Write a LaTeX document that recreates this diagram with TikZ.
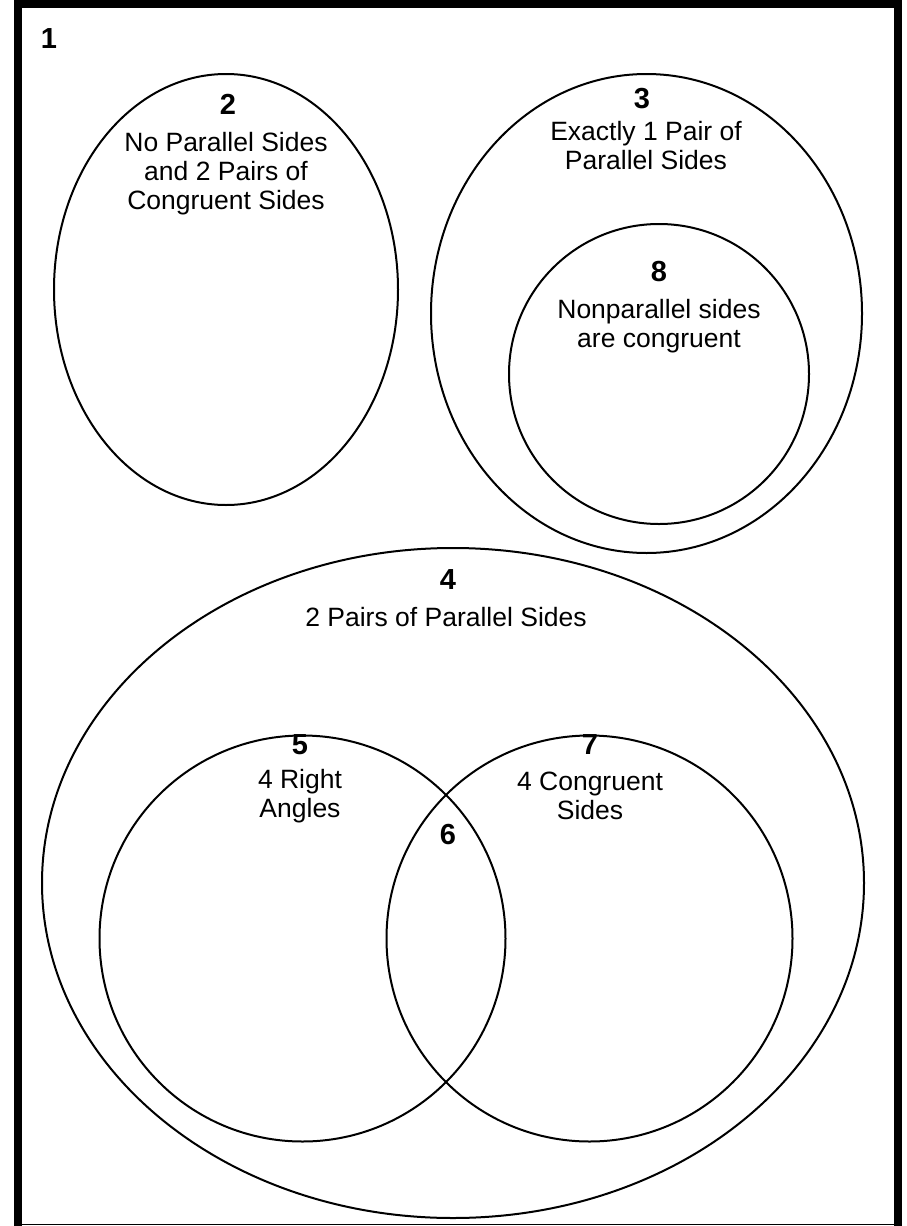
\documentclass[tikz,border=0pt]{standalone}
\usepackage{fontspec}
\setmainfont{Liberation Sans}
\begin{document}
\begin{tikzpicture}[x=1pt,y=-1pt,
  num/.style={font=\fontsize{29}{29}\selectfont\bfseries, inner sep=0pt},
  lbl/.style={font=\fontsize{26.5}{29}\selectfont, align=center, inner sep=0pt},
  setline/.style={line width=2pt},
  frameline/.style={line width=8pt}]
\useasboundingbox (0,0) rectangle (906,1226);
% frame
\draw[frameline] (18,1226) -- (18,4) -- (898,4) -- (898,1226);
\draw[line width=1.5pt] (14,1224.5) -- (902,1224.5);
% sets
\draw[setline] (226,289.5) ellipse [x radius=172, y radius=215.5];
\draw[setline] (646.5,313.5) ellipse [x radius=215.5, y radius=239.5];
\draw[setline] (659,374) circle [radius=150];
\draw[setline] (453,883) ellipse [x radius=411, y radius=335];
\draw[setline] (302.5,938.5) circle [radius=203];
\draw[setline] (589.5,938.5) circle [radius=203];
% labels
\node[num] (n1) at (49,39) {1};
\node[num] (n2) at (228,104) {2};
\node[lbl] (t2) at (226,174) {No Parallel Sides\\and 2 Pairs of\\Congruent Sides};
\node[num] (n3) at (642,99) {3};
\node[lbl] (t3) at (646,146) {Exactly 1 Pair of\\Parallel Sides};
\node[num] (n8) at (659,272) {8};
\node[lbl] (t8) at (659,326) {Nonparallel sides\\are congruent};
\node[num] (n4) at (448,580) {4};
\node[lbl] (t4) at (446,617) {2 Pairs of Parallel Sides};
\node[num] (n5) at (300,745) {5};
\node[lbl] (t5) at (300,796) {4 Right\\Angles};
\node[num] (n7) at (590,745) {7};
\node[lbl] (t7) at (590,796) {4 Congruent\\Sides};
\node[num] (n6) at (448,835) {6};
\end{tikzpicture}
\end{document}
